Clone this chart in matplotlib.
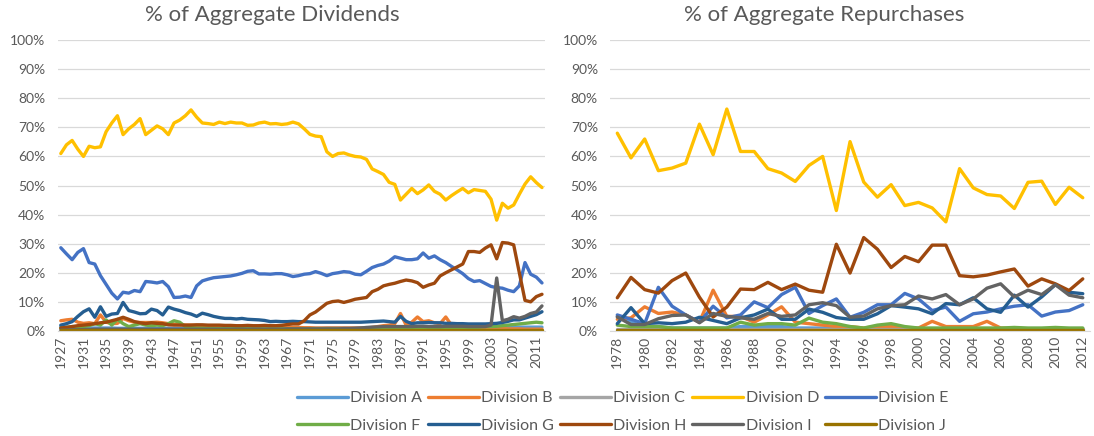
# % of aggregate dividends / repurchases by division, two Excel-style line panels
import matplotlib
matplotlib.use("Agg")
import matplotlib.pyplot as plt
from matplotlib.ticker import PercentFormatter

plt.rcParams['font.family'] = ['Lato', 'DejaVu Sans']

divisions = ['Division A', 'Division B', 'Division C', 'Division D', 'Division E',
             'Division F', 'Division G', 'Division H', 'Division I', 'Division J']
colors = ['#5B9BD5', '#ED7D31', '#A5A5A5', '#FFC000', '#4472C4',
          '#70AD47', '#255E91', '#9E480E', '#636363', '#997300']

# ---- dividends, 1927-2012 (percent)
div_years = list(range(1927, 2013))
div_A = [1.5, 1.3, 1.2, 1.0, 1.0, 1.0, 1.0, 1.0, 1.0, 1.0,
         0.9, 0.9, 0.9, 0.9, 0.9, 0.9, 0.9, 0.9, 0.9, 0.9,
         0.8, 0.8, 0.8, 0.8, 0.8, 0.8, 0.8, 0.8, 0.8, 0.8,
         0.8, 0.8, 0.8, 0.8, 0.8, 0.8, 0.8, 0.8, 0.8, 0.8,
         0.9, 0.9, 0.9, 0.9, 0.9, 0.9, 0.9, 1.0, 1.0, 1.0,
         1.0, 1.0, 1.0, 1.1, 1.1, 1.2, 1.2, 1.2, 1.2, 1.2,
         1.2, 1.2, 1.2, 1.2, 1.2, 1.2, 1.2, 1.2, 1.2, 1.2,
         1.2, 1.2, 1.2, 1.3, 1.3, 1.3, 1.3, 1.3, 1.3, 1.3,
         1.3, 1.3, 1.3, 1.3, 1.3, 1.3]
div_B = [3.5, 3.8, 4.0, 3.0, 2.6, 2.8, 2.5, 5.5, 3.0, 2.5,
         2.6, 4.3, 3.5, 3.0, 2.9, 2.9, 2.9, 3.0, 2.8, 2.5,
         2.3, 2.2, 2.0, 2.0, 1.9, 1.8, 1.8, 1.7, 1.6, 1.6,
         1.5, 1.5, 1.4, 1.5, 1.4, 1.4, 1.3, 1.3, 1.2, 1.3,
         1.2, 1.2, 1.2, 1.1, 1.1, 1.0, 1.0, 1.0, 1.0, 1.0,
         1.0, 1.0, 1.0, 1.0, 1.0, 1.2, 1.5, 1.8, 2.0, 2.5,
         6.0, 2.0, 3.0, 4.8, 3.2, 3.5, 2.8, 2.5, 4.8, 2.0,
         1.5, 1.2, 1.0, 1.0, 1.0, 0.9, 0.8, 0.8, 0.8, 0.7,
         0.7, 0.7, 0.6, 0.6, 0.6, 0.6]
div_C = [0.3, 0.3, 0.3, 0.3, 0.3, 0.3, 0.3, 0.3, 0.3, 0.3,
         0.3, 0.3, 0.3, 0.3, 0.3, 0.3, 0.3, 0.3, 0.3, 0.3,
         0.3, 0.3, 0.3, 0.3, 0.3, 0.3, 0.3, 0.3, 0.3, 0.3,
         0.3, 0.3, 0.3, 0.3, 0.3, 0.3, 0.3, 0.3, 0.3, 0.3,
         0.3, 0.3, 0.3, 0.3, 0.3, 0.3, 0.3, 0.3, 0.3, 0.3,
         0.3, 0.3, 0.3, 0.3, 0.3, 0.3, 0.3, 0.3, 0.3, 0.3,
         0.3, 0.3, 0.3, 0.3, 0.3, 0.3, 0.3, 0.3, 0.3, 0.3,
         0.3, 0.3, 0.3, 0.3, 0.3, 0.3, 0.3, 0.3, 0.3, 0.3,
         0.3, 0.3, 0.3, 0.3, 0.3, 0.3]
div_D = [61.0, 64.0, 65.5, 62.5, 60.0, 63.5, 63.0, 63.3, 68.5, 71.5,
         74.0, 67.5, 69.5, 71.0, 73.0, 67.5, 69.0, 70.5, 69.5, 67.5,
         71.5, 72.5, 74.0, 76.0, 73.5, 71.5, 71.3, 71.0, 71.8, 71.3,
         71.8, 71.5, 71.5, 70.7, 70.8, 71.5, 71.8, 71.2, 71.3, 71.0,
         71.2, 71.8, 71.2, 69.5, 67.6, 67.0, 66.8, 61.6, 60.0, 61.0,
         61.2, 60.5, 60.0, 59.8, 59.0, 55.7, 54.8, 53.8, 51.1, 50.4,
         45.0, 47.0, 49.0, 47.2, 48.5, 50.2, 48.0, 47.0, 45.0, 46.5,
         47.8, 49.0, 47.5, 48.6, 48.3, 48.0, 45.3, 38.1, 43.9, 42.2,
         43.3, 47.0, 50.5, 53.0, 51.0, 49.3]
div_E = [28.6, 26.5, 24.5, 27.0, 28.3, 23.5, 23.0, 19.0, 16.0, 13.0,
         11.0, 13.3, 13.0, 13.9, 13.5, 17.0, 16.8, 16.5, 17.0, 15.2,
         11.5, 11.6, 12.0, 11.5, 15.5, 17.2, 17.8, 18.3, 18.5, 18.7,
         18.9, 19.3, 19.8, 20.5, 20.7, 19.6, 19.6, 19.5, 19.7, 19.7,
         19.3, 18.7, 19.0, 19.5, 19.7, 20.4, 19.8, 19.0, 19.7, 20.0,
         20.4, 20.2, 19.5, 19.3, 20.5, 21.8, 22.5, 23.0, 24.0, 25.5,
         25.0, 24.5, 24.5, 24.8, 26.8, 25.0, 25.8, 24.5, 23.5, 22.2,
         21.0, 19.7, 18.0, 17.0, 17.3, 16.3, 15.3, 14.9, 14.7, 14.0,
         13.5, 15.5, 23.5, 19.5, 18.5, 16.5]
div_F = [1.0, 1.2, 1.5, 1.5, 1.5, 1.8, 2.5, 2.0, 3.8, 2.0,
         4.0, 2.5, 1.5, 2.0, 2.5, 2.0, 1.8, 2.0, 1.8, 2.5,
         3.5, 3.0, 1.5, 1.2, 1.0, 1.0, 0.9, 0.9, 0.8, 0.8,
         0.8, 0.8, 0.8, 0.8, 0.7, 0.7, 0.7, 0.7, 0.7, 0.7,
         0.7, 0.7, 0.7, 0.7, 0.7, 0.7, 0.7, 0.7, 0.7, 0.7,
         0.7, 0.7, 0.7, 0.7, 0.7, 0.7, 0.7, 0.7, 0.7, 0.7,
         0.7, 0.7, 0.7, 0.7, 0.7, 0.8, 0.8, 0.8, 0.8, 0.8,
         0.9, 0.9, 1.0, 1.2, 1.3, 1.5, 1.5, 1.6, 1.8, 2.0,
         2.2, 2.4, 2.6, 2.8, 3.0, 2.8]
div_G = [2.0, 2.5, 3.2, 5.0, 6.6, 7.6, 4.7, 8.3, 5.0, 5.8,
         6.0, 9.8, 7.0, 6.5, 5.9, 6.0, 7.5, 7.0, 5.5, 8.2,
         7.5, 7.0, 6.3, 5.8, 5.0, 6.1, 5.6, 5.0, 4.6, 4.3,
         4.3, 4.1, 4.3, 4.0, 3.9, 3.8, 3.6, 3.2, 3.3, 3.2,
         3.2, 3.3, 3.2, 3.2, 3.1, 3.0, 3.0, 3.0, 3.0, 3.0,
         3.0, 3.0, 3.0, 3.0, 3.1, 3.2, 3.3, 3.4, 3.2, 3.0,
         5.0, 3.3, 2.5, 2.8, 2.8, 2.9, 2.8, 2.8, 2.6, 2.6,
         2.5, 2.5, 2.4, 2.4, 2.4, 2.4, 2.5, 2.6, 2.9, 3.3,
         3.8, 3.8, 4.4, 5.0, 5.6, 6.6]
div_H = [1.0, 1.2, 1.5, 1.8, 2.0, 2.2, 2.5, 2.8, 3.0, 3.5,
         4.0, 4.7, 4.0, 3.2, 2.8, 2.5, 2.8, 2.6, 2.5, 2.1,
         2.0, 2.0, 2.0, 2.0, 2.1, 2.1, 2.0, 2.0, 2.0, 1.9,
         1.9, 1.8, 1.8, 1.9, 1.8, 1.8, 1.9, 1.8, 1.8, 1.9,
         2.2, 2.4, 2.4, 3.5, 5.5, 6.5, 8.0, 9.5, 10.1, 10.3,
         9.8, 10.3, 10.9, 11.2, 11.5, 13.5, 14.3, 15.5, 16.0, 16.4,
         17.0, 17.5, 17.2, 16.6, 15.0, 15.8, 16.4, 18.9, 20.0, 21.0,
         22.0, 23.0, 27.3, 27.3, 27.0, 28.5, 29.6, 24.8, 30.4, 30.2,
         29.6, 20.0, 10.5, 10.0, 11.8, 12.6]
div_I = [0.3, 0.3, 0.4, 0.4, 0.5, 0.5, 0.6, 0.6, 0.6, 0.6,
         0.6, 0.6, 0.6, 0.6, 0.6, 0.6, 0.6, 0.6, 0.6, 0.6,
         0.6, 0.6, 0.6, 0.6, 0.6, 0.6, 0.6, 0.6, 0.6, 0.6,
         0.6, 0.6, 0.6, 0.6, 0.6, 0.6, 0.6, 0.6, 0.6, 0.6,
         0.7, 0.7, 0.7, 0.7, 0.7, 0.7, 0.7, 0.7, 0.7, 0.7,
         0.8, 0.8, 0.9, 1.0, 1.2, 1.3, 1.4, 1.5, 1.5, 1.5,
         1.5, 1.5, 1.5, 1.6, 1.6, 1.5, 1.5, 1.5, 1.6, 1.6,
         1.6, 1.6, 1.5, 1.5, 1.5, 1.5, 2.0, 18.2, 3.5, 4.0,
         4.9, 4.4, 5.0, 6.0, 6.5, 8.6]
div_J = [0.4, 0.4, 0.4, 0.4, 0.4, 0.4, 0.4, 0.4, 0.4, 0.4,
         0.4, 0.4, 0.4, 0.4, 0.4, 0.4, 0.4, 0.4, 0.4, 0.4,
         0.4, 0.4, 0.4, 0.4, 0.4, 0.4, 0.4, 0.4, 0.4, 0.4,
         0.4, 0.4, 0.4, 0.4, 0.4, 0.4, 0.4, 0.4, 0.4, 0.4,
         0.4, 0.4, 0.4, 0.4, 0.4, 0.4, 0.4, 0.4, 0.4, 0.4,
         0.4, 0.4, 0.4, 0.4, 0.4, 0.4, 0.4, 0.4, 0.4, 0.4,
         0.4, 0.4, 0.4, 0.4, 0.4, 0.4, 0.4, 0.4, 0.4, 0.4,
         0.4, 0.4, 0.4, 0.4, 0.4, 0.4, 0.4, 0.4, 0.4, 0.4,
         0.4, 0.4, 0.4, 0.4, 0.4, 0.4]

# ---- repurchases, 1978-2012 (percent)
rep_years = list(range(1978, 2013))
rep_A = [5.0, 3.0, 1.5, 1.5, 1.0, 1.0, 1.0, 1.0, 1.0, 1.5,
         1.5, 1.5, 1.5, 1.0, 1.0, 1.0, 1.0, 0.8, 0.8, 0.8,
         0.8, 0.8, 0.8, 0.8, 0.8, 0.8, 0.8, 0.8, 0.8, 0.8,
         0.8, 0.8, 0.8, 0.8, 0.8]
rep_B = [4.0, 4.5, 8.3, 6.0, 6.5, 5.5, 3.0, 14.0, 5.0, 5.0,
         3.0, 5.5, 8.3, 3.0, 2.5, 2.0, 1.5, 1.5, 1.0, 1.5,
         1.5, 1.0, 1.0, 3.3, 1.5, 1.5, 1.5, 3.3, 1.0, 0.8,
         0.6, 0.6, 0.5, 0.5, 0.5]
rep_C = [0.5, 0.5, 0.5, 0.5, 0.5, 0.5, 0.5, 0.5, 0.5, 0.5,
         0.5, 0.5, 0.5, 0.5, 0.5, 0.5, 0.5, 0.5, 0.5, 0.5,
         0.5, 0.5, 0.5, 0.5, 0.5, 0.5, 0.5, 0.5, 0.5, 0.5,
         0.5, 0.5, 0.5, 0.5, 0.5]
rep_D = [68.0, 59.5, 66.0, 55.1, 56.0, 57.7, 71.1, 60.6, 76.3, 61.7,
         61.7, 55.8, 54.3, 51.4, 56.9, 60.0, 41.4, 65.1, 51.2, 46.0,
         50.3, 43.1, 44.2, 42.3, 37.5, 55.8, 49.2, 46.9, 46.4, 42.1,
         51.1, 51.5, 43.5, 49.4, 45.8]
rep_E = [5.5, 4.0, 2.5, 15.0, 8.5, 5.5, 3.0, 8.5, 4.5, 5.5,
         10.0, 8.0, 12.5, 15.0, 6.0, 8.7, 11.0, 4.7, 6.4, 9.0,
         9.0, 12.9, 11.0, 7.0, 8.2, 3.3, 5.9, 6.5, 7.6, 8.5,
         9.0, 5.1, 6.5, 7.0, 9.0]
rep_F = [2.0, 1.5, 1.5, 1.5, 1.0, 1.0, 1.0, 1.0, 1.0, 3.0,
         2.0, 2.5, 2.5, 2.0, 4.4, 3.0, 2.5, 1.5, 1.0, 2.0,
         2.5, 1.5, 1.0, 1.0, 1.0, 1.0, 1.0, 1.0, 1.0, 1.2,
         1.0, 1.0, 1.2, 1.0, 1.0]
rep_G = [2.5, 8.0, 2.5, 2.8, 2.5, 3.0, 4.7, 3.6, 2.5, 4.5,
         5.5, 7.5, 4.0, 4.0, 7.5, 6.4, 4.6, 4.0, 4.0, 5.9,
         8.7, 8.2, 7.6, 5.9, 9.4, 9.0, 11.4, 7.6, 6.4, 12.3,
         8.2, 11.7, 15.9, 13.3, 12.8]
rep_H = [11.4, 18.4, 14.2, 13.0, 17.3, 19.9, 11.6, 4.8, 8.2, 14.4,
         14.2, 16.7, 14.2, 16.1, 14.0, 13.3, 29.8, 19.9, 32.1, 28.1,
         21.8, 25.6, 23.8, 29.5, 29.5, 19.0, 18.6, 19.2, 20.3, 21.3,
         15.4, 17.9, 16.2, 13.9, 17.9]
rep_I = [4.8, 2.2, 2.2, 4.2, 5.3, 5.5, 2.8, 6.0, 5.0, 4.5,
         4.0, 6.0, 5.0, 5.5, 9.0, 9.7, 8.7, 4.7, 5.1, 7.6,
         8.7, 9.0, 12.0, 11.0, 12.5, 9.0, 11.0, 14.7, 16.2, 11.7,
         14.0, 12.5, 15.9, 12.3, 11.4]
rep_J = [0.3, 0.3, 0.3, 0.3, 0.3, 0.3, 0.3, 0.3, 0.3, 0.3,
         0.3, 0.3, 0.3, 0.3, 0.3, 0.3, 0.3, 0.3, 0.3, 0.3,
         0.3, 0.3, 0.3, 0.3, 0.3, 0.3, 0.3, 0.3, 0.3, 0.3,
         0.3, 0.3, 0.3, 0.3, 0.3]

div_series = [div_A, div_B, div_C, div_D, div_E, div_F, div_G, div_H, div_I, div_J]
rep_series = [rep_A, rep_B, rep_C, rep_D, rep_E, rep_F, rep_G, rep_H, rep_I, rep_J]

text_color = '#595959'
grid_color = '#D9D9D9'

fig = plt.figure(figsize=(10.94, 4.36), dpi=100)
ax1 = fig.add_axes([0.053, 0.241, 0.445, 0.667])
ax2 = fig.add_axes([0.558, 0.241, 0.438, 0.667])


def style_axis(ax, years, tick_years):
    ax.set_ylim(0, 100)
    ax.set_yticks(range(0, 101, 10))
    ax.yaxis.set_major_formatter(PercentFormatter(100, decimals=0))
    ax.set_xlim(years[0] - 0.5, years[-1] + 0.5)
    ax.set_xticks(tick_years)
    ax.set_xticklabels([str(y) for y in tick_years], rotation=90)
    ax.grid(axis='y', color=grid_color, linewidth=0.9)
    ax.set_axisbelow(True)
    for side in ['top', 'right', 'left']:
        ax.spines[side].set_visible(False)
    ax.spines['bottom'].set_color(grid_color)
    ax.tick_params(length=0, colors=text_color, labelsize=10)
    ax.tick_params(axis='y', pad=9)


lines = []
for vals, col, name in zip(div_series, colors, divisions):
    ln, = ax1.plot(div_years, vals, color=col, linewidth=2.4, label=name,
                   solid_joinstyle='round', solid_capstyle='round')
    lines.append(ln)
for vals, col in zip(rep_series, colors):
    ax2.plot(rep_years, vals, color=col, linewidth=2.4,
             solid_joinstyle='round', solid_capstyle='round')

style_axis(ax1, div_years, div_years[::4])
style_axis(ax2, rep_years, rep_years[::2])

fig.text(0.249, 0.965, '% of Aggregate Dividends', ha='center', va='center',
         fontsize=16, color=text_color)
fig.text(0.753, 0.965, '% of Aggregate Repurchases', ha='center', va='center',
         fontsize=16, color=text_color)

# legend rows A-E then F-J (matplotlib fills column by column)
order = [0, 5, 1, 6, 2, 7, 3, 8, 4, 9]
fig.legend([lines[i] for i in order], [divisions[i] for i in order],
           loc='center', bbox_to_anchor=(0.569, 0.055), ncol=5, frameon=False,
           fontsize=11.5, labelcolor=text_color, handlelength=3.2,
           handletextpad=0.15, columnspacing=0.35, labelspacing=0.85)

fig.savefig('out.png', dpi=100)
